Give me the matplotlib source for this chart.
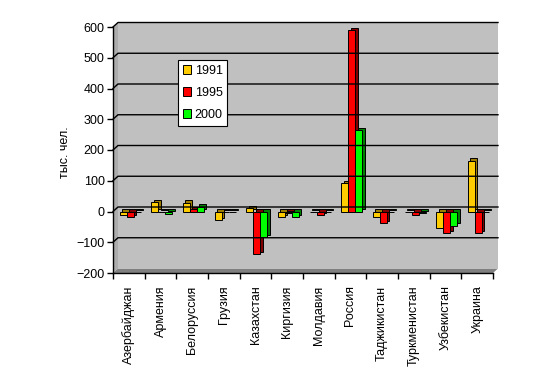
import numpy as np
import matplotlib
matplotlib.use("Agg")
import matplotlib.pyplot as plt
from matplotlib.patches import Polygon, Patch
from matplotlib.lines import Line2D
from matplotlib.transforms import offset_copy, IdentityTransform

# migration balance, thousand people
countries = ["Азербайджан", "Армения", "Белоруссия", "Грузия", "Казахстан", "Киргизия",
             "Молдавия", "Россия", "Таджикистан", "Туркменистан", "Узбекистан", "Украина"]
years = ["1991", "1995", "2000"]
v1991 = [-10, 30, 28, -28, 10, -18, -2, 92, -18, -3, -54, 165]
v1995 = [-18, -3, 8, -2, -139, -5, -12, 590, -38, -12, -70, -70]
v2000 = [-3, -8, 15, -2, -84, -18, -3, 265, -3, -6, -47, -3]
yticks = [-200, -100, 0, 100, 200, 300, 400, 500, 600]

face_cols = ["#ffcc00", "#ff0000", "#00ff00"]
side_cols = ["#9c7c00", "#800000", "#008000"]

plt.rcParams["font.family"] = ["Liberation Sans", "DejaVu Sans"]
plt.rcParams["font.size"] = 9

W, H = 552, 382
fig = plt.figure(figsize=(W / 100, H / 100), dpi=100)
fig.patch.set_facecolor("white")
ax = fig.add_axes([113 / W, (H - 273) / H, 380 / W, 246 / H])
ax.set_xlim(0, len(countries))
ax.set_ylim(-200, 600)
ax.set_facecolor("none")

DX, DY = 5, 4.5   # depth of the 3d box, px
ident = IdentityTransform()

def px(x, y):
    return ax.transData.transform((x, y))

# back wall, side wall, floor
wall = offset_copy(ax.transAxes, fig=fig, x=DX, y=DY, units="dots")
ax.add_patch(plt.Rectangle((0, 0), 1, 1, transform=wall, facecolor="#c0c0c0",
                           edgecolor="none", zorder=0, clip_on=False))
n = len(countries)
a0, a1 = px(0, -200), px(0, 600)
b0, b1 = px(n, -200), px(n, 600)
fig.add_artist(Polygon([a0, a1, a1 + [DX, DY], a0 + [DX, DY]], closed=True,
                       transform=ident, facecolor="#acacac", edgecolor="none", zorder=0))
fig.add_artist(Polygon([a0, b0, b0 + [DX, DY], a0 + [DX, DY]], closed=True,
                       transform=ident, facecolor="#808080", edgecolor="none", zorder=0))

# gridlines on the back wall
for v in yticks[1:]:
    p = px(0, v)
    q = px(n, v)
    fig.add_artist(Line2D([p[0], p[0] + DX, q[0] + DX], [p[1], p[1] + DY, q[1] + DY],
                          transform=ident, color="black", lw=1, zorder=0.5))

# 3d bars: shifted dark copy behind the front face
w = 0.22
xs = np.arange(n)
deep = offset_copy(ax.transData, fig=fig, x=2.5, y=2.5, units="dots")
for j, vals in enumerate([v1991, v1995, v2000]):
    x = xs + 0.21 + w * (j + 0.5)
    ax.bar(x, vals, width=w, color=side_cols[j], edgecolor="black", lw=0.7,
           transform=deep, zorder=2 + j * 2)
    ax.bar(x, vals, width=w, color=face_cols[j], edgecolor="black", lw=0.7,
           zorder=3 + j * 2)

# axes
for s in ["top", "right"]:
    ax.spines[s].set_visible(False)
ax.spines["left"].set_linewidth(1)
ax.spines["bottom"].set_linewidth(1)
ax.set_yticks(yticks)
ax.tick_params(axis="y", length=4, width=1, pad=2)
ax.set_xticks(xs + 0.5)
ax.set_xticklabels(countries, rotation=90)
ax.set_xticks(np.arange(n + 1), minor=True)
ax.tick_params(axis="x", which="major", length=0, pad=9)
ax.tick_params(axis="x", which="minor", length=4, width=1)

fig.text(65 / W, (H - 152) / H, "тыс. чел.", rotation=90, ha="center", va="center")

handles = [Patch(facecolor=c, edgecolor="black", lw=0.7) for c in face_cols]
leg = fig.legend(handles, years, loc="upper left", bbox_to_anchor=(178 / W, (H - 60) / H),
                 fancybox=False, framealpha=1, edgecolor="black", handlelength=0.65,
                 handleheight=0.65, handletextpad=0.3, labelspacing=0.8, borderpad=0.38,
                 borderaxespad=0)
leg.get_frame().set_linewidth(0.8)

fig.savefig("out.png", dpi=100)
